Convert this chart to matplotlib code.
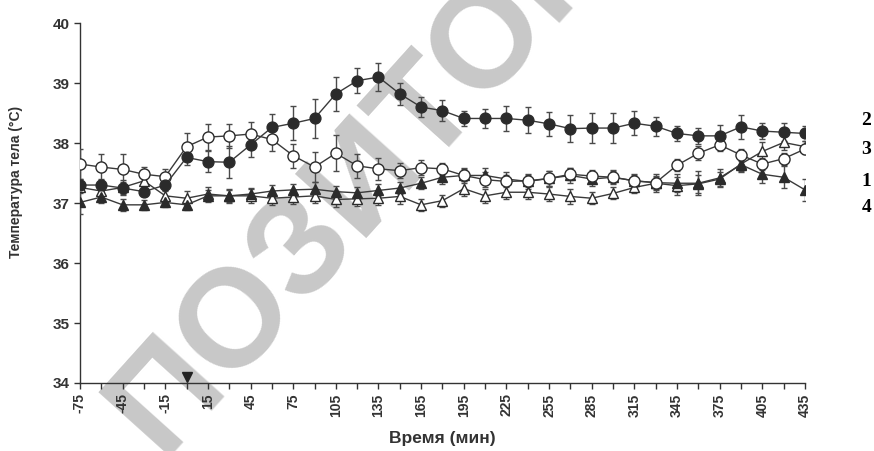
#!/usr/bin/env python3
import matplotlib
matplotlib.use('Agg')
import matplotlib.pyplot as plt
from matplotlib.ticker import MultipleLocator

# time points, min
minutes = list(range(-75, 436, 15))

# group 2 - filled circles
temp_2 = [37.30, 37.30, 37.25, 37.19, 37.30, 37.76, 37.69, 37.68, 37.97, 38.26,
          38.33, 38.41, 38.82, 39.04, 39.10, 38.82, 38.60, 38.54, 38.41, 38.41,
          38.41, 38.38, 38.32, 38.24, 38.25, 38.25, 38.33, 38.28, 38.16, 38.12,
          38.12, 38.27, 38.20, 38.18, 38.16]
err_2 = [0.10, 0.10, 0.10, 0.08, 0.10, 0.12, 0.17, 0.27, 0.20, 0.22,
         0.28, 0.33, 0.28, 0.21, 0.23, 0.18, 0.17, 0.17, 0.13, 0.16,
         0.21, 0.22, 0.20, 0.23, 0.25, 0.25, 0.20, 0.16, 0.13, 0.13,
         0.18, 0.20, 0.14, 0.15, 0.12]

# group 3 - open circles
temp_3 = [37.65, 37.60, 37.56, 37.48, 37.44, 37.94, 38.10, 38.12, 38.15, 38.06,
          37.79, 37.60, 37.83, 37.62, 37.57, 37.54, 37.59, 37.57, 37.46, 37.39,
          37.36, 37.37, 37.41, 37.48, 37.45, 37.43, 37.37, 37.34, 37.63, 37.83,
          37.97, 37.80, 37.65, 37.74, 37.90]
err_3 = [0.25, 0.22, 0.25, 0.12, 0.12, 0.22, 0.22, 0.20, 0.20, 0.20,
         0.20, 0.25, 0.30, 0.20, 0.18, 0.12, 0.12, 0.10, 0.10, 0.12,
         0.10, 0.10, 0.12, 0.10, 0.10, 0.10, 0.10, 0.10, 0.10, 0.12,
         0.10, 0.10, 0.10, 0.10, 0.08]

# group 1 - filled triangles
temp_1 = [37.01, 37.10, 36.97, 36.97, 37.01, 36.97, 37.12, 37.12, 37.15, 37.20,
          37.22, 37.23, 37.19, 37.17, 37.21, 37.25, 37.33, 37.43, 37.46, 37.46,
          37.40, 37.36, 37.41, 37.46, 37.40, 37.43, 37.37, 37.34, 37.33, 37.33,
          37.42, 37.64, 37.48, 37.43, 37.22]
err_1 = [0.20, 0.10, 0.10, 0.08, 0.08, 0.08, 0.10, 0.10, 0.10, 0.10,
         0.10, 0.12, 0.10, 0.10, 0.10, 0.10, 0.10, 0.12, 0.12, 0.12,
         0.12, 0.12, 0.12, 0.12, 0.12, 0.12, 0.12, 0.15, 0.15, 0.20,
         0.15, 0.12, 0.15, 0.18, 0.18]

# group 4 - open triangles
temp_4 = [37.26, 37.20, 37.26, 37.37, 37.12, 37.08, 37.15, 37.12, 37.12, 37.08,
          37.10, 37.12, 37.06, 37.07, 37.08, 37.11, 36.97, 37.04, 37.24, 37.12,
          37.18, 37.18, 37.15, 37.11, 37.08, 37.16, 37.26, 37.33, 37.29, 37.32,
          37.40, 37.65, 37.86, 38.01, 37.94]
err_4 = [0.10, 0.12, 0.12, 0.10, 0.10, 0.12, 0.12, 0.12, 0.12, 0.12,
         0.12, 0.12, 0.12, 0.12, 0.12, 0.12, 0.10, 0.10, 0.12, 0.12,
         0.12, 0.12, 0.12, 0.12, 0.10, 0.10, 0.10, 0.12, 0.15, 0.15,
         0.12, 0.12, 0.15, 0.12, 0.10]

group_labels = ["2", "3", "1", "4"]
label_heights = [0.732, 0.668, 0.597, 0.540]   # figure fraction


def draw_series( ax, y, err, marker, filled, size ):
    face = "#2b2b2b" if filled else "white"
    ax.errorbar( minutes, y, yerr=err, fmt="-", color="#3a3a3a", lw=1.0,
                 ecolor="#4a4a4a", elinewidth=1.0, capsize=2.5, capthick=1.0,
                 marker=marker, markersize=size, markerfacecolor=face,
                 markeredgecolor="#2b2b2b", markeredgewidth=1.0, zorder=3 )


def main():
    plt.rcParams['font.family'] = ['Liberation Sans', 'DejaVu Sans']
    fig = plt.figure( figsize=(8.74, 4.51), dpi=100 )
    ax = fig.add_axes( [0.0915, 0.1508, 0.8295, 0.798] )
    ax.patch.set_alpha( 0 )

    # watermark behind the plot
    fig.text( 0.413, 0.598, "ПОЗИТОР", fontsize=100, fontweight="bold",
              color="#c8c8c8", rotation=48, rotation_mode="anchor",
              ha="center", va="center", zorder=-1 )

    draw_series( ax, temp_4, err_4, "^", False, 7.5 )
    draw_series( ax, temp_1, err_1, "^", True, 7 )
    draw_series( ax, temp_3, err_3, "o", False, 8 )
    draw_series( ax, temp_2, err_2, "o", True, 7.8 )

    # injection moment
    ax.plot( [0], [34.1], marker="v", markersize=7, color="#222222",
             clip_on=False, zorder=4 )

    ax.set_xlim( -75, 435 )
    ax.set_ylim( 34, 40 )
    ax.xaxis.set_minor_locator( MultipleLocator(15) )
    ax.yaxis.set_major_locator( MultipleLocator(1) )
    ax.set_xticks( range(-75, 436, 30) )
    ax.set_xticklabels( [str(t) for t in range(-75, 436, 30)], rotation=90,
                        fontsize=10, fontweight="bold", color="#333333" )
    for lbl in ax.get_yticklabels():
        lbl.set_fontsize( 11 )
        lbl.set_fontweight( "bold" )
        lbl.set_color( "#333333" )
    ax.tick_params( which="both", direction="out", length=4, width=1,
                    color="#333333" )
    for side in ["top", "right"]:
        ax.spines[side].set_visible( False )
    for side in ["left", "bottom"]:
        ax.spines[side].set_color( "#333333" )
        ax.spines[side].set_linewidth( 1.0 )

    ax.set_ylabel( "Температура тела (°C)", fontsize=10, fontweight="bold",
                   color="#333333" )
    ax.yaxis.set_label_coords( -0.078, 0.558 )
    ax.set_xlabel( "Время (мин)", fontsize=12.5, fontweight="bold",
                   color="#333333", labelpad=10 )

    for lbl, h in zip( group_labels, label_heights ):
        fig.text( 0.991, h, lbl, fontsize=14, fontweight="bold",
                  family="Liberation Serif", ha="center", va="center" )

    fig.savefig( "out.png", dpi=100 )


if __name__ == "__main__":
    main()
